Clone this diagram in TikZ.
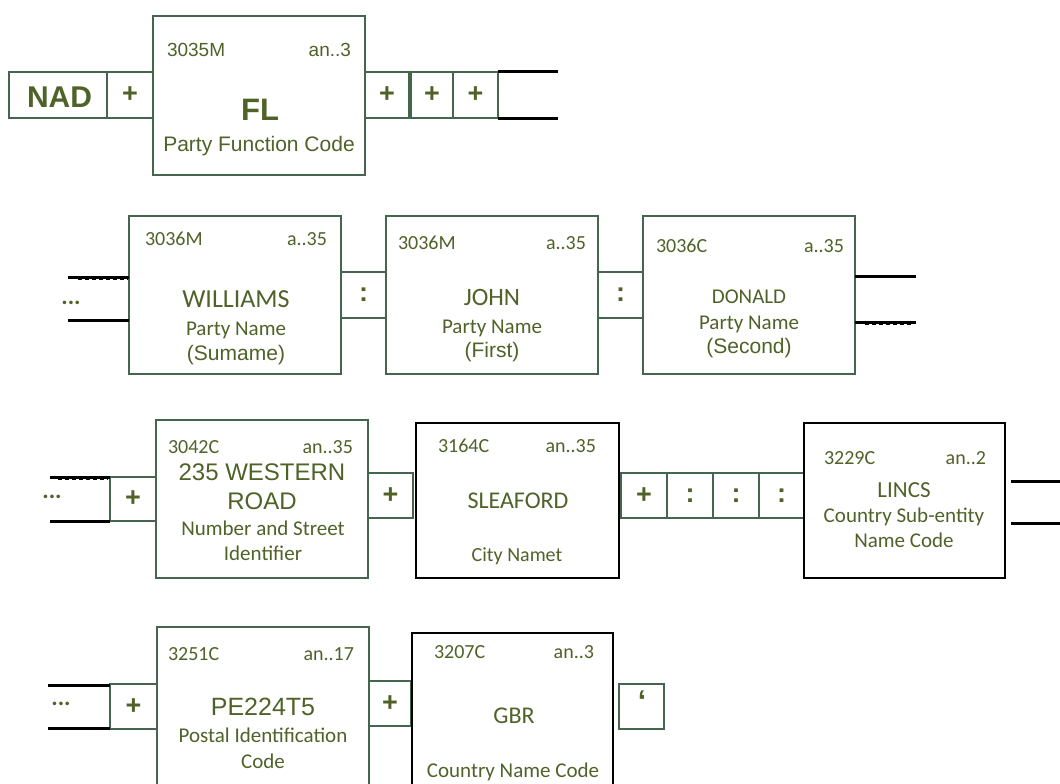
\documentclass[tikz,border=0pt]{standalone}
\usepackage{fontspec}
\setmainfont{Carlito}
\newfontfamily\arial{Liberation Sans}
\definecolor{txtc}{HTML}{4F6228}
\definecolor{boxc}{HTML}{46654E}
\newcommand\fs[1]{\fontsize{#1}{#1}\selectfont}
\tikzset{
  bx/.style={draw=boxc, line width=1.1pt, inner sep=0pt, outer sep=0pt, text=txtc},
  bk/.style={draw=black, line width=1.7pt, inner sep=0pt, outer sep=0pt, text=txtc},
  sep/.style={bx, font=\arial\bfseries\fs{27}},
  tx/.style={text=txtc, inner sep=0pt, outer sep=0pt, anchor=base},
  txl/.style={tx, anchor=base west},
  txr/.style={tx, anchor=base east},
  code/.style={font=\fs{20}},
  bar/.style={black, line width=3pt},
  dsh/.style={black, line width=1.3pt, dash pattern=on 4pt off 3pt},
  dots/.style={text=txtc, inner sep=0pt, font=\bfseries\fs{24}}
}
\begin{document}
\begin{tikzpicture}[x=1pt,y=-1pt]
\useasboundingbox (0,0) rectangle (1060,784);
\fill[white] (0,0) rectangle (1060,784);

% ---------------- Row 1 ----------------
\node[bx, minimum width=98pt, minimum height=46pt] (nad) at (58,95) {};
\node[tx, font=\arial\bfseries\fs{30}] (nadt) at (59.5,107) {NAD};
\node[sep, minimum width=46pt, minimum height=46pt] (p1) at (130,95) {+};
\node[bx, minimum width=212pt, minimum height=159pt] (fl) at (259,95.5) {};
\node[txl, font=\arial\fs{19}] (fla) at (167,57) {3035M};
\node[txr, font=\arial\fs{19}] (flb) at (351,57) {an..3};
\node[tx, font=\arial\bfseries\fs{31}] (flc) at (260,120) {FL};
\node[tx, font=\arial\fs{21}] (fld) at (259,151) {Party Function Code};
\node[sep, minimum width=44pt, minimum height=46pt] (p2) at (387,95) {+};
\node[sep, minimum width=42pt, minimum height=46pt] (p3) at (432,95) {+};
\node[sep, minimum width=45pt, minimum height=46pt] (p4) at (475.5,95) {+};
\coordinate (r1a) at (558,72);
\coordinate (r1b) at (558,118);
\draw[bar] (p4.north east) -- (r1a);
\draw[bar] (p4.south east) -- (r1b);

% ---------------- Row 2 ----------------
\node[bx, minimum width=212pt, minimum height=158pt] (will) at (235,295) {};
\node[txl, code] at (145,245) {3036M};
\node[txr, code] at (327,245) {a..35};
\node[tx, font=\fs{26}] at (236,307) {WILLIAMS};
\node[tx, font=\fs{21}] at (236,335) {Party Name};
\node[tx, font=\arial\fs{21}] at (236,360) {(Sumame)};
\node[sep, minimum width=45pt, minimum height=46pt] (c1) at (363.5,295) {:};
\node[bx, minimum width=212pt, minimum height=158pt] (john) at (492,295) {};
\node[txl, code] at (398,249) {3036M};
\node[txr, code] at (586,249) {a..35};
\node[tx, font=\fs{25}] at (492,305) {JOHN};
\node[tx, font=\fs{21}] at (492,333) {Party Name};
\node[tx, font=\arial\fs{21}] at (492,357) {(First)};
\node[sep, minimum width=45pt, minimum height=46pt] (c2) at (620.5,295) {:};
\node[bx, minimum width=212pt, minimum height=158pt] (don) at (749,295) {};
\node[txl, code] at (656,252) {3036C};
\node[txr, code] at (844,252) {a..35};
\node[tx, font=\fs{21}] at (749,303) {DONALD};
\node[tx, font=\fs{21}] at (749,329) {Party Name};
\node[tx, font=\arial\fs{21}] at (749,353) {(Second)};
\coordinate (l2a) at (68,277);
\coordinate (l2b) at (68,320);
\draw[bar] (l2a) -- (will.west |- l2a);
\draw[dsh] (78,279) -- (128,279);
\draw[bar] (l2b) -- (will.west |- l2b);
\node[dots] (d2) at (71,303) {...};
\coordinate (r2a) at (916,276);
\coordinate (r2b) at (916,322);
\draw[bar] (don.east |- r2a) -- (r2a);
\draw[bar] (don.east |- r2b) -- (r2b);
\draw[dsh] (865,324) -- (913,324);

% ---------------- Row 3 ----------------
\node[sep, minimum width=46pt, minimum height=44pt] (p5) at (133,499) {+};
\node[bx, minimum width=212pt, minimum height=158pt] (west) at (262,499) {};
\node[txl, code] at (168,453) {3042C};
\node[txr, code] at (353,453) {an..35};
\node[tx, font=\arial\fs{24}] at (262,480) {235 WESTERN};
\node[tx, font=\arial\fs{24}] at (262,509) {ROAD};
\node[tx, font=\fs{21}] at (263,535) {Number and Street};
\node[tx, font=\fs{21}] at (263,560) {Identifier};
\node[sep, minimum width=45pt, minimum height=45pt] (p6) at (390.5,495.5) {+};
\node[bk, minimum width=203pt, minimum height=155pt] (slea) at (517.5,500.5) {};
\node[txl, code] at (438,452) {3164C};
\node[txr, code] at (596,452) {an..35};
\node[tx, font=\fs{24}] at (518,508) {SLEAFORD};
\node[tx, font=\fs{20}] at (517,561) {City Namet};
\node[sep, minimum width=46pt, minimum height=45pt] (p7) at (644,495.5) {+};
\node[sep, minimum width=46pt, minimum height=45pt] (c3) at (690,495.5) {:};
\node[sep, minimum width=46pt, minimum height=45pt] (c4) at (736,495.5) {:};
\node[sep, minimum width=45pt, minimum height=45pt] (c5) at (781.5,495.5) {:};
\node[bk, minimum width=201pt, minimum height=155pt] (lincs) at (904.5,500.5) {};
\node[txl, code] at (824,464) {3229C};
\node[txr, code] at (986,464) {an..2};
\node[tx, font=\fs{23}] at (904,497) {LINCS};
\node[tx, font=\fs{21}] at (904,522) {Country Sub-entity};
\node[tx, font=\fs{21}] at (904,547) {Name Code};
\coordinate (l3a) at (50,477);
\coordinate (l3b) at (50,521);
\draw[bar] (l3a) -- (p5.north west);
\draw[dsh] (58,479) -- (108,479);
\draw[bar] (l3b) -- (p5.south west);
\node[dots] (d3) at (52,497) {...};
\coordinate (r3a) at (1060,481);
\coordinate (r3b) at (1060,523);
\coordinate (r3s) at (1011,481);
\draw[bar] (r3s) -- (r3a);
\draw[bar] (r3s |- r3b) -- (r3b);

% ---------------- Row 4 ----------------
\node[sep, minimum width=47pt, minimum height=45pt] (p8) at (133.5,706.5) {+};
\node[bx, minimum width=212pt, minimum height=170pt] (pe) at (263,712) {};
\node[txl, code] at (168,660) {3251C};
\node[txr, code] at (354,660) {an..17};
\node[tx, font=\arial\fs{25}] at (263,715) {PE224T5};
\node[tx, font=\fs{21}] at (263,742) {Postal Identification};
\node[tx, font=\fs{21}] at (263,768) {Code};
\node[sep, minimum width=42pt, minimum height=45pt] (p9) at (390,703.5) {+};
\node[bk, minimum width=201pt, minimum height=167pt] (gbr) at (512.5,716.5) {};
\node[txl, code] at (434,658) {3207C};
\node[txr, code] at (594,658) {an..3};
\node[tx, font=\fs{24}] at (514,723) {GBR};
\node[tx, font=\fs{21}] at (513,777) {Country Name Code};
\node[bx, minimum width=45pt, minimum height=45pt] (q) at (641.5,706.5) {};
\node[text=txtc, inner sep=0pt, font=\arial\bfseries\fs{30}] (qt) at (642,701) {‘};
\coordinate (l4a) at (48,685);
\coordinate (l4b) at (48,728);
\draw[bar] (l4a) -- (p8.west |- l4a);
\draw[bar] (l4b) -- (p8.west |- l4b);
\node[dots] (d4) at (61,704) {...};
\end{tikzpicture}
\end{document}
